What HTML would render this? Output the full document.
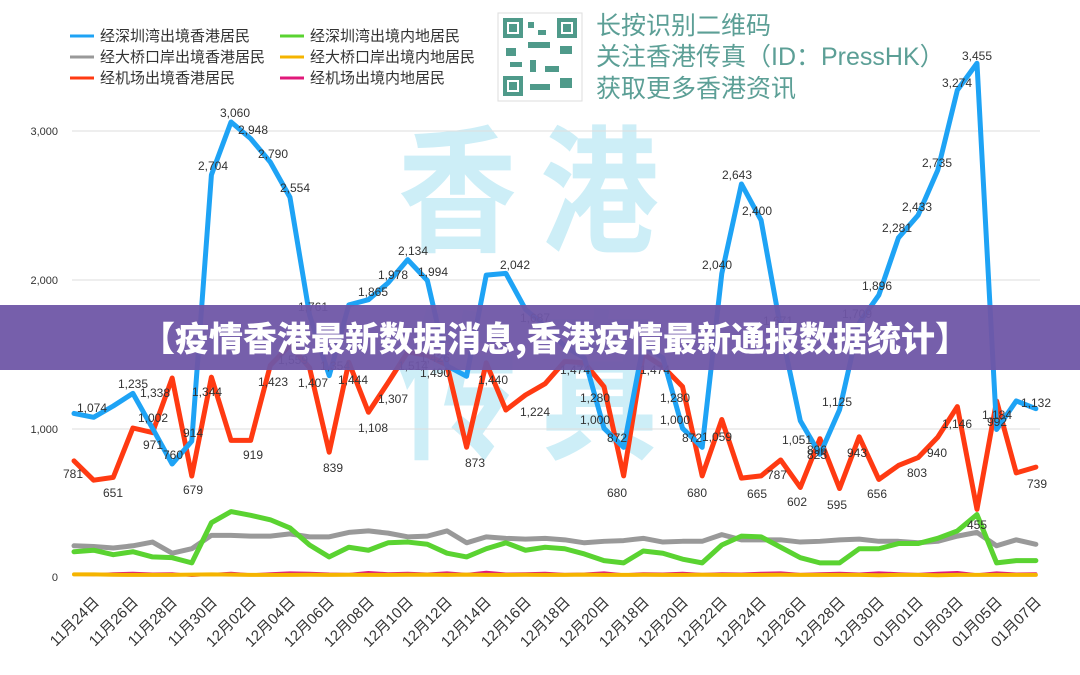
<!DOCTYPE html>
<html><head><meta charset="utf-8"><style>
html,body{margin:0;padding:0;background:#fff;}
svg{display:block;font-family:"Liberation Sans","Noto Sans CJK SC",sans-serif;}
</style></head><body>
<svg width="1080" height="675" viewBox="0 0 1080 675" xmlns="http://www.w3.org/2000/svg">
<rect width="1080" height="675" fill="#fff"/>
<!-- watermark -->
<g fill="#cdeef7" font-family="'Noto Sans CJK SC',sans-serif" font-weight="bold">
<text x="0" y="0" font-size="125" transform="translate(398,241) scale(0.95,1.1)">香</text>
<text x="0" y="0" font-size="125" transform="translate(540,241) scale(0.95,1.1)">港</text>
<text x="0" y="0" font-size="125" transform="translate(398,446) scale(0.95,1.3)">传</text>
<text x="0" y="0" font-size="125" transform="translate(540,446) scale(0.95,1.3)">真</text>
</g>
<!-- gridlines -->
<g stroke="#dedede" stroke-width="1">
<line x1="72" y1="131" x2="1040" y2="131"/>
<line x1="72" y1="280" x2="1040" y2="280"/>
<line x1="72" y1="429" x2="1040" y2="429"/>
</g>
<g font-size="11" fill="#333" text-anchor="end">
<text x="58" y="135">3,000</text>
<text x="58" y="284">2,000</text>
<text x="58" y="433">1,000</text>
<text x="58" y="581">0</text>
</g>
<!-- series -->
<g transform="translate(74,577) scale(19.63,-0.1487)" fill="none" stroke-linejoin="round" stroke-linecap="round">
<polyline vector-effect="non-scaling-stroke" stroke="#e0187a" stroke-width="3" points="0,18 1,15 2,22 3,25 4,20 5,22 6,10 7,18 8,25 9,15 10,22 11,28 12,25 13,20 14,18 15,30 16,22 17,25 18,20 19,28 20,18 21,32 22,20 23,22 24,25 25,18 26,20 27,28 28,15 29,22 30,20 31,25 32,18 33,22 34,20 35,25 36,28 37,18 38,22 39,25 40,20 41,28 42,22 43,18 44,25 45,30 46,15 47,28 48,20 49,22"/>
<polyline vector-effect="non-scaling-stroke" stroke="#f5b400" stroke-width="4" points="0,18 1,18 2,15 3,14 4,14 5,14 6,16 7,18 8,16 9,14 10,14 11,14 12,15 13,14 14,15 15,14 16,14 17,15 18,16 19,14 20,16 21,14 22,14 23,15 24,14 25,14 26,16 27,14 28,14 29,15 30,14 31,14 32,15 33,14 34,14 35,14 36,15 37,14 38,14 39,14 40,14 41,12 42,14 43,14 44,12 45,14 46,14 47,14 48,14 49,14"/>
<polyline vector-effect="non-scaling-stroke" stroke="#999999" stroke-width="5" points="0,210 1,205 2,195 3,210 4,235 5,160 6,190 7,280 8,280 9,275 10,275 11,290 12,270 13,270 14,300 15,310 16,295 17,270 18,275 19,310 20,230 21,270 22,260 23,255 24,260 25,250 26,230 27,240 28,245 29,260 30,235 31,240 32,240 33,285 34,250 35,250 36,250 37,235 38,240 39,250 40,255 41,240 42,240 43,230 44,240 45,275 46,300 47,210 48,250 49,220"/>
<polyline vector-effect="non-scaling-stroke" stroke="#5ad331" stroke-width="5" points="0,170 1,180 2,150 3,170 4,135 5,130 6,95 7,365 8,440 9,415 10,385 11,330 12,215 13,135 14,200 15,180 16,230 17,235 18,220 19,160 20,135 21,190 22,230 23,180 24,200 25,190 26,155 27,110 28,95 29,175 30,160 31,120 32,95 33,215 34,275 35,270 36,200 37,130 38,95 39,95 40,190 41,190 42,225 43,225 44,260 45,310 46,420 47,95 48,110 49,110"/>
<polyline vector-effect="non-scaling-stroke" stroke="#ff3a12" stroke-width="5" points="0,781 1,651 2,670 3,1002 4,971 5,1338 6,679 7,1344 8,919 9,919 10,1423 11,1559 12,1407 13,839 14,1444 15,1108 16,1307 17,1514 18,1490 19,1426 20,873 21,1440 22,1123 23,1224 24,1300 25,1450 26,1440 27,1280 28,680 29,1500 30,1415 31,1280 32,680 33,1059 34,665 35,680 36,787 37,602 38,930 39,595 40,943 41,656 42,750 43,803 44,940 45,1146 46,455 47,1184 48,700 49,739"/>
<polyline vector-effect="non-scaling-stroke" stroke="#1ea3f5" stroke-width="5" points="0,1100 1,1074 2,1150 3,1235 4,1000 5,760 6,914 7,2704 8,3060 9,2948 10,2790 11,2554 12,1761 13,1354 14,1830 15,1865 16,1978 17,2134 18,1994 19,1420 20,1350 21,2030 22,2042 23,1800 24,1687 25,1550 26,1474 27,1000 28,872 29,1560 30,1474 31,1000 32,872 33,2040 34,2643 35,2400 36,1671 37,1051 38,825 39,1125 40,1709 41,1896 42,2281 43,2433 44,2735 45,3274 46,3455 47,992 48,1184 49,1132"/>
</g>
<!-- data labels -->
<g font-size="12" fill="#333" text-anchor="middle">
<text x="92" y="412">1,074</text><text x="133" y="388">1,235</text><text x="153" y="422">1,002</text><text x="153" y="449">971</text><text x="173" y="459">760</text><text x="193" y="437">914</text><text x="213" y="170">2,704</text><text x="235" y="117">3,060</text><text x="253" y="134">2,948</text><text x="273" y="158">2,790</text><text x="295" y="192">2,554</text><text x="313" y="311">1,761</text><text x="335" y="370">1,354</text><text x="373" y="296">1,865</text><text x="393" y="279">1,978</text><text x="413" y="255">2,134</text><text x="433" y="276">1,994</text><text x="515" y="269">2,042</text><text x="535" y="322">1,687</text><text x="575" y="374">1,474</text><text x="595" y="402">1,280</text><text x="595" y="424">1,000</text><text x="617" y="442">872</text><text x="655" y="374">1,474</text><text x="675" y="402">1,280</text><text x="675" y="424">1,000</text><text x="692" y="442">872</text><text x="717" y="269">2,040</text><text x="737" y="179">2,643</text><text x="757" y="215">2,400</text><text x="778" y="325">1,671</text><text x="797" y="444">1,051</text><text x="817" y="454">896</text><text x="817" y="459">825</text><text x="837" y="406">1,125</text><text x="857" y="318">1,709</text><text x="877" y="290">1,896</text><text x="897" y="232">2,281</text><text x="917" y="211">2,433</text><text x="937" y="167">2,735</text><text x="957" y="87">3,274</text><text x="977" y="60">3,455</text><text x="997" y="426">992</text><text x="997" y="419">1,184</text><text x="1036" y="407">1,132</text>
<text x="73" y="478">781</text><text x="113" y="497">651</text><text x="155" y="397">1,338</text><text x="207" y="396">1,344</text><text x="193" y="494">679</text><text x="253" y="459">919</text><text x="273" y="386">1,423</text><text x="293" y="364">1,559</text><text x="313" y="387">1,407</text><text x="333" y="472">839</text><text x="353" y="384">1,444</text><text x="373" y="432">1,108</text><text x="393" y="403">1,307</text><text x="413" y="370">1,514</text><text x="435" y="362">1,426</text><text x="435" y="377">1,490</text><text x="493" y="384">1,440</text><text x="475" y="467">873</text><text x="535" y="416">1,224</text><text x="617" y="497">680</text><text x="697" y="497">680</text><text x="717" y="441">1,059</text><text x="757" y="498">665</text><text x="777" y="479">787</text><text x="797" y="506">602</text><text x="837" y="509">595</text><text x="857" y="457">943</text><text x="877" y="498">656</text><text x="917" y="477">803</text><text x="937" y="457">940</text><text x="957" y="428">1,146</text><text x="977" y="529">455</text><text x="1037" y="488">739</text>
</g>
<!-- x labels -->
<g font-size="15" fill="#333" text-anchor="end">
<text transform="translate(100,603) rotate(-45)">11月24日</text>
<text transform="translate(139,603) rotate(-45)">11月26日</text>
<text transform="translate(178,603) rotate(-45)">11月28日</text>
<text transform="translate(218,603) rotate(-45)">11月30日</text>
<text transform="translate(257,603) rotate(-45)">12月02日</text>
<text transform="translate(296,603) rotate(-45)">12月04日</text>
<text transform="translate(335,603) rotate(-45)">12月06日</text>
<text transform="translate(375,603) rotate(-45)">12月08日</text>
<text transform="translate(414,603) rotate(-45)">12月10日</text>
<text transform="translate(453,603) rotate(-45)">12月12日</text>
<text transform="translate(492,603) rotate(-45)">12月14日</text>
<text transform="translate(532,603) rotate(-45)">12月16日</text>
<text transform="translate(571,603) rotate(-45)">12月18日</text>
<text transform="translate(610,603) rotate(-45)">12月20日</text>
<text transform="translate(650,603) rotate(-45)">12月18日</text>
<text transform="translate(689,603) rotate(-45)">12月20日</text>
<text transform="translate(728,603) rotate(-45)">12月22日</text>
<text transform="translate(767,603) rotate(-45)">12月24日</text>
<text transform="translate(807,603) rotate(-45)">12月26日</text>
<text transform="translate(846,603) rotate(-45)">12月28日</text>
<text transform="translate(885,603) rotate(-45)">12月30日</text>
<text transform="translate(924,603) rotate(-45)">01月01日</text>
<text transform="translate(964,603) rotate(-45)">01月03日</text>
<text transform="translate(1003,603) rotate(-45)">01月05日</text>
<text transform="translate(1042,603) rotate(-45)">01月07日</text>
</g>
<!-- legend -->
<g stroke-width="3">
<line x1="70" y1="36" x2="94" y2="36" stroke="#1ea3f5"/>
<line x1="70" y1="57" x2="94" y2="57" stroke="#999"/>
<line x1="70" y1="78" x2="94" y2="78" stroke="#ff3a12"/>
<line x1="280" y1="36" x2="304" y2="36" stroke="#5ad331"/>
<line x1="280" y1="57" x2="304" y2="57" stroke="#f5b400"/>
<line x1="280" y1="78" x2="304" y2="78" stroke="#e0187a"/>
</g>
<g font-size="15" fill="#333">
<text x="100" y="41">经深圳湾出境香港居民</text>
<text x="100" y="62">经大桥口岸出境香港居民</text>
<text x="100" y="83">经机场出境香港居民</text>
<text x="310" y="41">经深圳湾出境内地居民</text>
<text x="310" y="62">经大桥口岸出境内地居民</text>
<text x="310" y="83">经机场出境内地居民</text>
</g>
<!-- QR -->
<rect x="498" y="13" width="84" height="88" fill="#fff" stroke="#ddd"/>
<g fill="#4f9a8a">
<rect x="503" y="18" width="20" height="20"/><rect x="557" y="18" width="20" height="20"/><rect x="503" y="76" width="20" height="20"/>
<rect x="528" y="22" width="6" height="6"/><rect x="538" y="30" width="8" height="5"/><rect x="528" y="42" width="22" height="6"/><rect x="506" y="48" width="10" height="8"/><rect x="560" y="46" width="12" height="8"/><rect x="530" y="60" width="6" height="12"/><rect x="545" y="66" width="14" height="6"/><rect x="560" y="78" width="12" height="10"/><rect x="530" y="84" width="20" height="6"/><rect x="510" y="62" width="12" height="5"/>
</g>
<rect x="507" y="22" width="12" height="12" fill="#fff"/><rect x="561" y="22" width="12" height="12" fill="#fff"/><rect x="507" y="80" width="12" height="12" fill="#fff"/>
<rect x="509" y="24" width="8" height="8" fill="#4f9a8a"/><rect x="563" y="24" width="8" height="8" fill="#4f9a8a"/><rect x="509" y="82" width="8" height="8" fill="#4f9a8a"/>
<g font-size="25" fill="#5c9f96">
<text x="596" y="34">长按识别二维码</text>
<text x="596" y="65">关注香港传真（ID：PressHK）</text>
<text x="596" y="97">获取更多香港资讯</text>
</g>
<!-- banner -->
<rect x="0" y="305" width="1080" height="65" fill="#6f56a6" fill-opacity="0.95"/>
<text x="555" y="351" font-size="34" font-weight="900" fill="#fff" text-anchor="middle" font-family="'Noto Sans CJK SC',sans-serif">【疫情香港最新数据消息,香港疫情最新通报数据统计】</text>
</svg>
</body></html>
